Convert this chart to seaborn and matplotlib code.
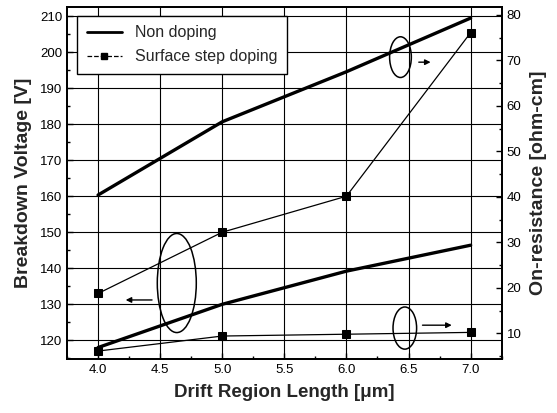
import matplotlib
matplotlib.use("Agg")
import matplotlib.pyplot as plt
from matplotlib.patches import Ellipse
from matplotlib.lines import Line2D
from matplotlib.ticker import MultipleLocator
import seaborn as sns
import pandas as pd

# data
length = [4.0, 5.0, 6.0, 7.0]
bv_non = [118.0, 130.0, 139.2, 146.4]
bv_step = [133.0, 150.0, 160.0, 205.4]
ron_non = [40.4, 56.5, 67.5, 79.3]
ron_step = [6.1, 9.4, 9.8, 10.2]

sns.set_style("ticks")
plt.rcParams["font.family"] = ["Liberation Sans", "DejaVu Sans"]

df = pd.DataFrame({"length": length, "bv_non": bv_non, "bv_step": bv_step,
                   "ron_non": ron_non, "ron_step": ron_step})

fig = plt.figure(figsize=(5.57, 4.13), dpi=100)
ax = fig.add_axes([0.1203, 0.1315, 0.7804, 0.8523])
ax2 = ax.twinx()

# breakdown voltage (left axis)
sns.lineplot(data=df, x="length", y="bv_non", ax=ax, color="black", lw=2.4)
sns.lineplot(data=df, x="length", y="bv_step", ax=ax, color="black", lw=0.9,
             marker="s", markersize=6, markeredgecolor="black")
# on-resistance (right axis)
sns.lineplot(data=df, x="length", y="ron_non", ax=ax2, color="black", lw=2.4)
sns.lineplot(data=df, x="length", y="ron_step", ax=ax2, color="black", lw=0.9,
             marker="s", markersize=6, markeredgecolor="black")

ax.set_xlim(3.75, 7.25)
ax.set_ylim(114.9, 212.6)
ax2.set_ylim(4.42, 81.8)

ax.xaxis.set_major_locator(MultipleLocator(0.5))
ax.xaxis.set_minor_locator(MultipleLocator(0.25))
ax.yaxis.set_major_locator(MultipleLocator(10))
ax.yaxis.set_minor_locator(MultipleLocator(5))
ax2.yaxis.set_major_locator(MultipleLocator(10))
ax2.yaxis.set_minor_locator(MultipleLocator(5))

ax.grid(True, which="major", color="black", lw=0.8)
ax.set_axisbelow(True)

for a in (ax, ax2):
    a.tick_params(which="both", direction="in", labelsize=9.5, colors="black")
    a.tick_params(which="major", length=4, width=1)
    a.tick_params(which="minor", length=2.5, width=1)
    for s in a.spines.values():
        s.set_linewidth(1.3)
        s.set_color("black")

ax.set_xlabel("Drift Region Length [μm]", fontsize=13.5, fontweight="bold", labelpad=6)
ax.set_ylabel("Breakdown Voltage [V]", fontsize=14, fontweight="bold", labelpad=6)
ax2.set_ylabel("On-resistance [ohm-cm]", fontsize=14, fontweight="bold", labelpad=6)

# annotation ellipses and arrows
for (cx, cy, w, h) in [(6.435, 198.6, 0.175, 11.3), (4.634, 135.9, 0.314, 27.5),
                       (6.47, 123.4, 0.19, 11.7)]:
    ax.add_patch(Ellipse((cx, cy), w, h, fill=False, ec="black", lw=1.1, zorder=5))
arrow = dict(arrowstyle="-|>", color="black", lw=1, mutation_scale=8)
ax.annotate("", xy=(6.70, 197.2), xytext=(6.56, 197.2), arrowprops=arrow)
ax.annotate("", xy=(4.20, 131.2), xytext=(4.457, 131.2), arrowprops=arrow)
ax.annotate("", xy=(6.87, 124.2), xytext=(6.59, 124.2), arrowprops=arrow)

handles = [Line2D([], [], color="black", lw=2.0),
           Line2D([], [], color="black", lw=0.9, ls="--", marker="s", markersize=5)]
leg = ax.legend(handles, ["Non doping", "Surface step doping"], loc="upper left",
                bbox_to_anchor=(0.023, 0.974), borderaxespad=0, fontsize=11.5,
                frameon=True, fancybox=False, edgecolor="black", framealpha=1,
                borderpad=0.6, handlelength=2.2, labelspacing=0.55)
leg.get_frame().set_linewidth(1.0)
leg.set_zorder(6)

fig.savefig("out.png", dpi=100)
